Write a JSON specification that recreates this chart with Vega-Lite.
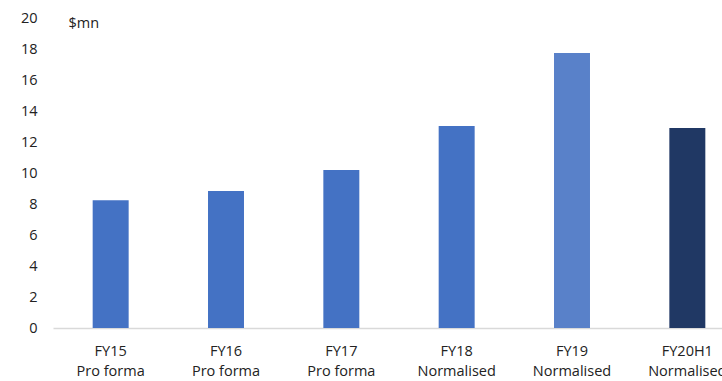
{
  "$schema": "https://vega.github.io/schema/vega-lite/v6.json",
  "autosize": "none",
  "padding": {"left": 53, "top": 18, "right": 0, "bottom": 53},
  "width": 692,
  "height": 310,
  "background": "white",
  "data": {
    "values": [
      {"period": "FY15|Pro forma", "value": 8.24},
      {"period": "FY16|Pro forma", "value": 8.84},
      {"period": "FY17|Pro forma", "value": 10.19},
      {"period": "FY18|Normalised", "value": 13.03},
      {"period": "FY19|Normalised", "value": 17.74},
      {"period": "FY20H1|Normalised", "value": 12.9}
    ]
  },
  "mark": {"type": "bar"},
  "encoding": {
    "x": {
      "field": "period",
      "type": "nominal",
      "sort": null,
      "scale": {"paddingInner": 0.688, "paddingOuter": 0.344},
      "axis": {
        "title": null,
        "labelAngle": 0,
        "labelExpr": "split(datum.label, '|')",
        "labelFont": "Open Sans",
        "labelFontSize": 14.5,
        "labelLineHeight": 20,
        "labelColor": "#222222",
        "labelPadding": 16,
        "ticks": false,
        "domainColor": "#D9D9D9",
        "domainWidth": 1.5,
        "grid": false
      }
    },
    "y": {
      "field": "value",
      "type": "quantitative",
      "scale": {"domain": [0, 20]},
      "axis": {
        "values": [0, 2, 4, 6, 8, 10, 12, 14, 16, 18, 20],
        "title": "$mn",
        "titleAngle": 0,
        "titleAlign": "left",
        "titleBaseline": "middle",
        "titleX": 15,
        "titleY": 5,
        "titleFont": "Open Sans",
        "titleFontSize": 14.5,
        "titleFontWeight": "normal",
        "titleColor": "#222222",
        "labelFont": "Open Sans",
        "labelFontSize": 14.5,
        "labelColor": "#222222",
        "labelPadding": 16,
        "ticks": false,
        "domain": false,
        "grid": false
      }
    },
    "color": {
      "field": "period",
      "type": "nominal",
      "legend": null,
      "scale": {
        "domain": ["FY15|Pro forma", "FY16|Pro forma", "FY17|Pro forma", "FY18|Normalised", "FY19|Normalised", "FY20H1|Normalised"],
        "range": ["#4472C4", "#4472C4", "#4472C4", "#4472C4", "#5981C9", "#203864"]
      }
    }
  },
  "config": {"view": {"stroke": null}}
}
